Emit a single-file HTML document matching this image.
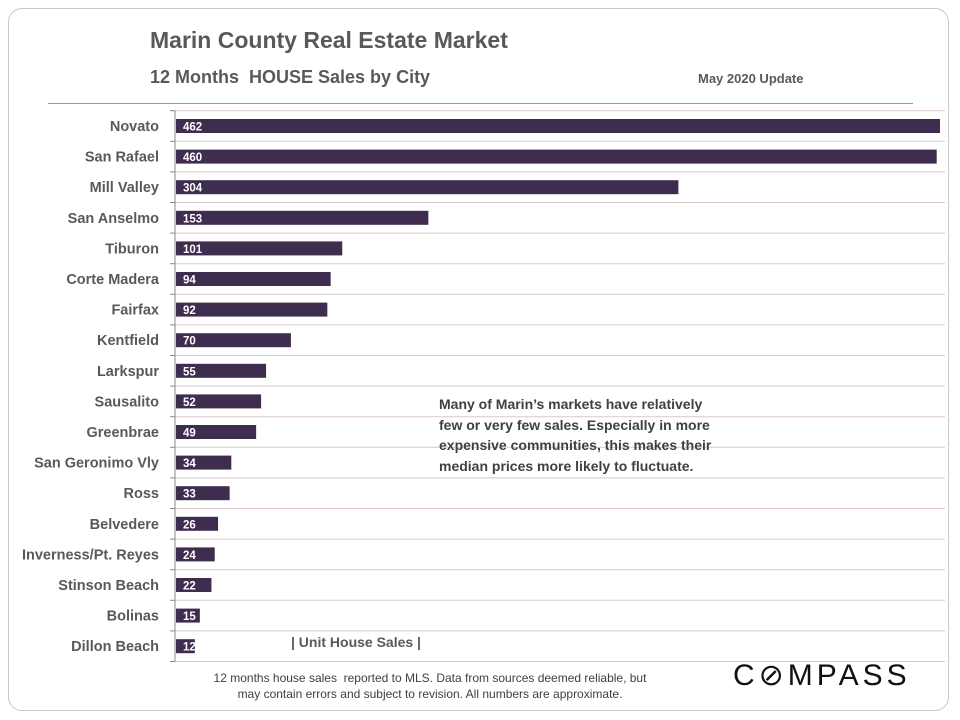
<!DOCTYPE html>
<html><head><meta charset="utf-8"><style>
body{margin:0;width:960px;height:720px;background:#fff;font-family:"Liberation Sans",sans-serif;overflow:hidden}
#card{position:absolute;left:8px;top:8px;width:941px;height:703px;border:1px solid #c8c8c8;border-radius:14px;box-sizing:border-box}
.t{position:absolute;color:#595959;font-weight:bold;white-space:nowrap}
</style></head><body>
<div id="card"></div>
<div class="t" style="left:150px;top:27px;font-size:23px">Marin County Real Estate Market</div>
<div class="t" style="left:150px;top:67px;font-size:18px">12 Months&nbsp; HOUSE Sales by City</div>
<div class="t" style="left:698px;top:71px;font-size:13px">May 2020 Update</div>
<div style="position:absolute;left:48px;top:103px;width:865px;height:1px;background:#999"></div>
<svg id="chart" width="960" height="720" style="position:absolute;left:0;top:0"></svg>
<div class="t" style="left:439px;top:394px;font-size:14px;line-height:20.5px;color:#404040">Many of Marin’s markets have relatively<br>few or very few sales. Especially in more<br>expensive communities, this makes their<br>median prices more likely to fluctuate.</div>
<div class="t" style="left:291px;top:634px;font-size:14px">| Unit House Sales |</div>
<div style="position:absolute;left:180px;top:670px;width:500px;text-align:center;font-size:12px;line-height:16px;color:#404040">12 months house sales&nbsp; reported to MLS. Data from sources deemed reliable, but<br>may contain errors and subject to revision. All numbers are approximate.</div>
<div style="position:absolute;left:733px;top:658px;font-size:30px;letter-spacing:4px;color:#111">C&#x2298;MPASS</div>
<script>
const cities=["Novato","San Rafael","Mill Valley","San Anselmo","Tiburon","Corte Madera","Fairfax","Kentfield","Larkspur","Sausalito","Greenbrae","San Geronimo Vly","Ross","Belvedere","Inverness/Pt. Reyes","Stinson Beach","Bolinas","Dillon Beach"];
const sales=[462,460,304,153,101,94,92,70,55,52,49,34,33,26,24,22,15,12];
const svg=document.getElementById('chart');const NS='http://www.w3.org/2000/svg';
const x0=175,xMax=462,xEnd=940,yTop=110.7,rowH=30.6;
const xs=v=>x0+v*(xEnd-x0)/xMax;
const yc=i=>yTop+rowH*(i+0.5);
function mk(t,a){const e=document.createElementNS(NS,t);for(const k in a)e.setAttribute(k,a[k]);svg.appendChild(e);return e;}
for(let i=0;i<=cities.length;i++){
 const y=yTop+rowH*i;
 const g=mk('line',{x1:x0,x2:945,y1:y,y2:y,stroke:'#dcc8cc','stroke-width':1});
 
 
 const tk=mk('line',{x1:x0-5,x2:x0,y1:y,y2:y,stroke:'#888'});
 
 
}
const ax=mk('line',{x1:x0,x2:x0,y1:yTop,y2:yTop+rowH*cities.length,stroke:'#888'});


cities.forEach((c,i)=>{
 const y=yc(i);
 const r=mk('rect',{x:x0+1,y:y-7,width:xs(sales[i])-x0-1,height:14,fill:'#3f2d4f'});
 
 
 const v=mk('text',{x:x0+8,y:y+4.5,fill:'#fff','font-size':11.5,'font-weight':'bold','font-family':'Liberation Sans,sans-serif'});
 v.textContent=sales[i];
 
 
 const l=mk('text',{x:159,y:y+5,fill:'#595959','font-size':14.5,'font-weight':'bold','text-anchor':'end','font-family':'Liberation Sans,sans-serif'});
 l.textContent=c;
 
 
});
</script>
</body></html>
